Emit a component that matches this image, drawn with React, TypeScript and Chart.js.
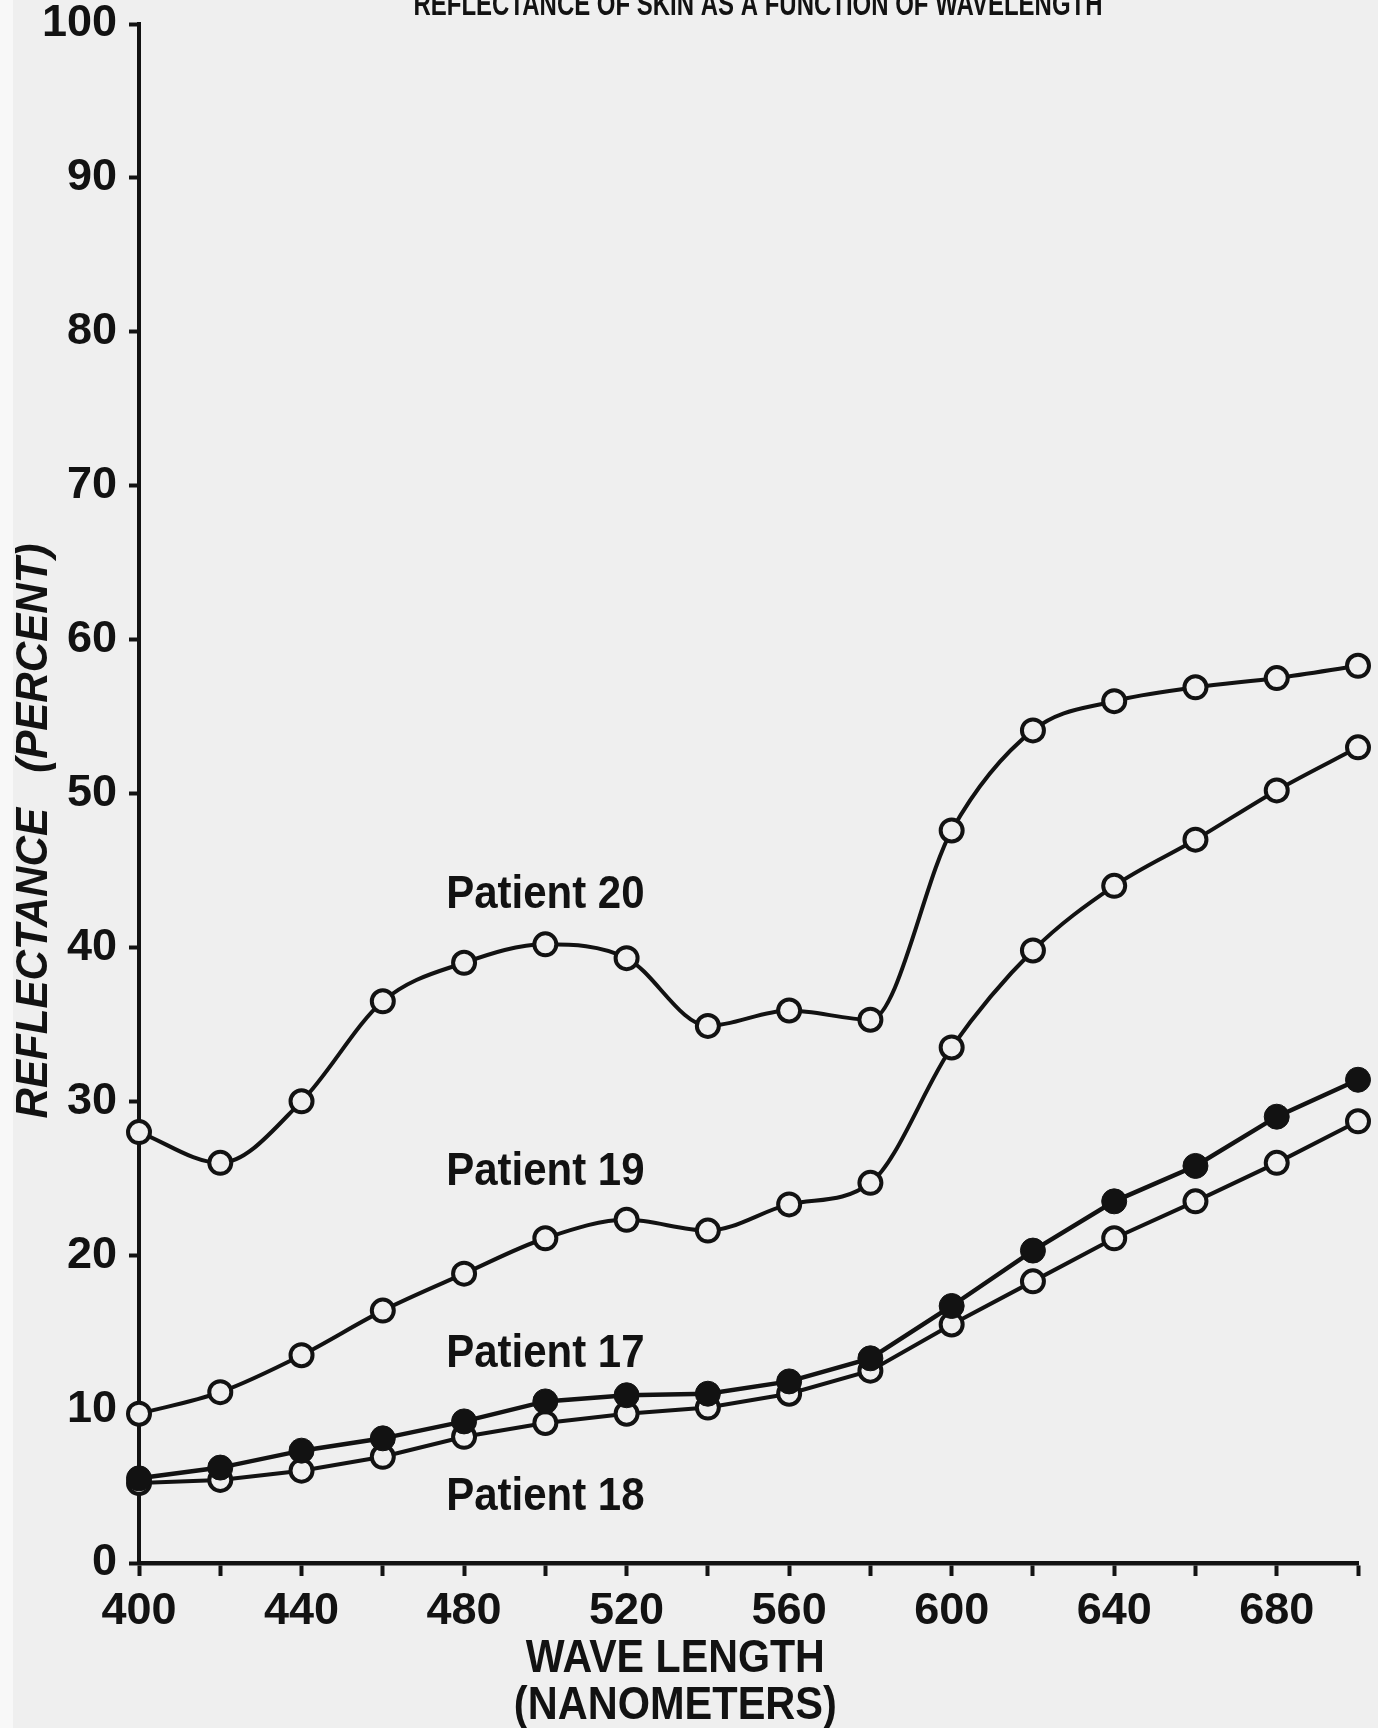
import React, { useEffect, useRef } from "react";
import { Chart, registerables } from "chart.js";

Chart.register(...registerables);

const wavelengths = [400, 420, 440, 460, 480, 500, 520, 540, 560, 580, 600, 620, 640, 660, 680, 700];
const patient20 = [28.0, 26.0, 30.0, 36.5, 39.0, 40.2, 39.3, 34.9, 35.9, 35.3, 47.6, 54.1, 56.0, 56.9, 57.5, 58.3];
const patient19 = [9.7, 11.1, 13.5, 16.4, 18.8, 21.1, 22.3, 21.6, 23.3, 24.7, 33.5, 39.8, 44.0, 47.0, 50.2, 53.0];
const patient17 = [5.5, 6.2, 7.3, 8.1, 9.2, 10.5, 10.9, 11.0, 11.8, 13.3, 16.7, 20.3, 23.5, 25.8, 29.0, 31.4];
const patient18 = [5.2, 5.4, 6.0, 6.9, 8.2, 9.1, 9.7, 10.1, 11.0, 12.5, 15.5, 18.3, 21.1, 23.5, 26.0, 28.7];

const seriesLabels = ["Patient 20", "Patient 19", "Patient 17", "Patient 18"];
const labelX = [500, 500, 500, 500];
const labelY = [43.4, 25.4, 13.6, 4.3];

const chartTitle = "REFLECTANCE OF SKIN AS A FUNCTION OF WAVELENGTH";
const xTitleLines = ["WAVE LENGTH", "(NANOMETERS)"];
const yTitle = "REFLECTANCE   (PERCENT)";

const BG = "#efefef";
const INK = "#121212";
const FONT = '"Liberation Sans", Arial, sans-serif';

const toPoints = (ys: number[]) => wavelengths.map((x, i) => ({ x, y: ys[i] }));

function drawText(ctx: any, text: string, x: number, y: number, targetW: number | null, vScale: number) {
  const w = ctx.measureText(text).width;
  const hs = targetW ? targetW / w : 1;
  ctx.save();
  ctx.translate(x, y);
  ctx.scale(hs, vScale);
  ctx.fillText(text, 0, 0);
  ctx.restore();
}

export default function App() {
  const ref = useRef<HTMLCanvasElement | null>(null);

  useEffect(() => {
    const canvas = ref.current;
    if (!canvas) return;

    const decor = {
      id: "decor",
      beforeDraw(chart: any) {
        const { ctx, width, height } = chart;
        ctx.save();
        ctx.fillStyle = BG;
        ctx.fillRect(0, 0, width, height);
        ctx.restore();
      },
      afterDraw(chart: any) {
        const { ctx, chartArea } = chart;
        const xs = chart.scales.x;
        const ys = chart.scales.y;
        ctx.save();
        ctx.fillStyle = INK;
        ctx.textAlign = "center";

        // main title (cut at top edge)
        ctx.font = `bold 30px ${FONT}`;
        ctx.textBaseline = "alphabetic";
        drawText(ctx, chartTitle, 758, 15, 689, 1.1);

        // patient labels
        ctx.font = `bold 42px ${FONT}`;
        ctx.textBaseline = "middle";
        seriesLabels.forEach((t, i) => {
          drawText(ctx, t, xs.getPixelForValue(labelX[i]), ys.getPixelForValue(labelY[i]), null, 1.12);
        });

        // x-axis title
        ctx.font = `bold 40px ${FONT}`;
        const cx = chartArea.left + (chartArea.right - chartArea.left) * 0.44;
        drawText(ctx, xTitleLines[0], cx, 1659, 299, 1.15);
        drawText(ctx, xTitleLines[1], cx, 1706, 323, 1.15);

        // y-axis title (rotated, italic)
        ctx.save();
        ctx.translate(47, 831);
        ctx.rotate(-Math.PI / 2);
        ctx.font = `italic bold 42px ${FONT}`;
        ctx.textBaseline = "alphabetic";
        drawText(ctx, yTitle, 0, 0, 575, 1.05);
        ctx.restore();

        // scan edge strip
        ctx.fillStyle = "#f8f8f8";
        ctx.fillRect(0, 0, 13, chart.height);
        ctx.restore();
      },
    };

    const openStyle = {
      borderColor: INK,
      borderWidth: 4,
      pointRadius: 11,
      pointBorderWidth: 4,
      pointBackgroundColor: BG,
      pointBorderColor: INK,
      fill: false,
      clip: false as any,
    };

    const chart = new Chart(canvas, {
      type: "line",
      data: {
        datasets: [
          { label: seriesLabels[0], data: toPoints(patient20), cubicInterpolationMode: "monotone", order: 3, ...openStyle },
          { label: seriesLabels[1], data: toPoints(patient19), cubicInterpolationMode: "monotone", order: 2, ...openStyle },
          {
            label: seriesLabels[2],
            data: toPoints(patient17),
            tension: 0,
            order: 0,
            borderColor: INK,
            borderWidth: 4.5,
            pointRadius: 12.5,
            pointBorderWidth: 1,
            pointBackgroundColor: INK,
            pointBorderColor: INK,
            fill: false,
            clip: false as any,
          },
          { label: seriesLabels[3], data: toPoints(patient18), tension: 0, order: 1, ...openStyle },
        ],
      },
      options: {
        animation: false,
        responsive: false,
        devicePixelRatio: 1,
        layout: { padding: { left: 0, right: 20, top: 24, bottom: 0 } },
        plugins: {
          legend: { display: false },
          tooltip: { enabled: false },
          title: { display: false },
        },
        scales: {
          x: {
            type: "linear",
            min: 400,
            max: 700,
            ticks: {
              stepSize: 20,
              autoSkip: false,
              maxRotation: 0,
              color: INK,
              padding: 9,
              font: { family: FONT, size: 45, weight: "bold" },
              callback: (v: any) => (Number(v) % 40 === 0 ? String(v) : ""),
            },
            grid: {
              drawOnChartArea: false,
              drawTicks: true,
              tickLength: 13,
              tickWidth: 4,
              tickColor: INK,
              color: INK,
            },
            border: { display: true, color: INK, width: 4.5 },
            afterFit: (s: any) => {
              s.height = 165;
              s.paddingLeft = 0;
              s.paddingRight = 0;
            },
          },
          y: {
            min: 0,
            max: 100,
            ticks: {
              stepSize: 10,
              color: INK,
              padding: 12,
              font: { family: FONT, size: 45, weight: "bold" },
            },
            grid: {
              drawOnChartArea: false,
              drawTicks: true,
              tickLength: 10,
              tickWidth: 4,
              tickColor: INK,
              color: INK,
            },
            border: { display: true, color: INK, width: 4 },
            afterFit: (s: any) => {
              s.width = 139;
              s.paddingTop = 0;
              s.paddingBottom = 0;
            },
          },
        },
      },
      plugins: [decor],
    });

    return () => chart.destroy();
  }, []);

  return (
    <div style={{ position: "absolute", left: 0, top: 0, width: 1378, height: 1728, background: BG }}>
      <canvas ref={ref} width={1378} height={1728} style={{ width: 1378, height: 1728, display: "block" }} />
    </div>
  );
}
